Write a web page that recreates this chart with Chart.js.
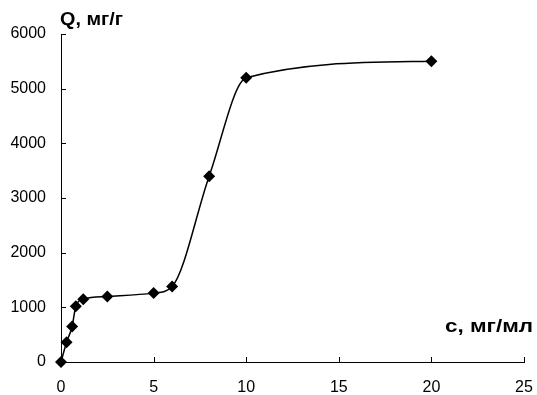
<!DOCTYPE html>
<html>
<head>
<meta charset="utf-8">
<script src="https://cdn.jsdelivr.net/npm/chart.js@4"></script>
<style>
html,body{margin:0;padding:0;background:#fff;}
#wrap{width:537px;height:395px;}
</style>
</head>
<body>
<div id="wrap"><canvas id="c" width="537" height="395"></canvas></div>
<script>
const concentrations = [0, 0.3, 0.6, 0.8, 1.2, 2.5, 5, 6, 8, 10, 20];
const adsorption = [0, 360, 650, 1020, 1150, 1200, 1260, 1380, 3400, 5200, 5500];
const xTicks = [0, 5, 10, 15, 20, 25];
const yTicks = [0, 1000, 2000, 3000, 4000, 5000, 6000];
const yTitle = 'Q, мг/г';
const xTitle = 'с, мг/мл';

const points = concentrations.map((x, i) => ({x: x, y: adsorption[i]}));

function fitText(ctx, text, x, y, targetW, align) {
  const w = ctx.measureText(text).width;
  const k = targetW / w;
  ctx.save();
  ctx.textAlign = 'left';
  const left = align === 'right' ? x - targetW : x;
  ctx.translate(left, y);
  ctx.scale(k, 1);
  ctx.fillText(text, 0, 0);
  ctx.restore();
}

const insideTicks = {
  id: 'insideTicks',
  afterDraw(chart) {
    const ctx = chart.ctx;
    const xs = chart.scales.x, ys = chart.scales.y;
    const a = chart.chartArea;
    ctx.save();
    ctx.strokeStyle = '#000';
    ctx.lineWidth = 1;
    ctx.beginPath();
    xTicks.forEach(v => {
      const px = Math.round(xs.getPixelForValue(v)) + 0.5;
      ctx.moveTo(px, a.bottom);
      ctx.lineTo(px, a.bottom - 5);
    });
    yTicks.forEach(v => {
      const py = Math.round(ys.getPixelForValue(v)) + 0.5;
      ctx.moveTo(a.left, py);
      ctx.lineTo(a.left + 5, py);
    });
    ctx.stroke();
    ctx.fillStyle = '#000';
    ctx.font = 'bold 19px "Liberation Sans", Arial, sans-serif';
    ctx.textBaseline = 'alphabetic';
    fitText(ctx, yTitle, 60, 25, 63, 'left');
    fitText(ctx, xTitle, 533, 332, 88, 'right');
    ctx.restore();
  }
};

new Chart(document.getElementById('c'), {
  type: 'line',
  data: {
    datasets: [{
      data: points,
      borderColor: '#000',
      backgroundColor: '#000',
      borderWidth: 1.5,
      tension: 0.4,
      cubicInterpolationMode: 'monotone',
      pointStyle: 'rectRot',
      pointRadius: 6,
      pointBorderWidth: 0,
      pointHoverRadius: 6,
      fill: false,
      clip: false
    }]
  },
  options: {
    responsive: false,
    animation: false,
    events: [],
    layout: {padding: {top: 34, right: 13, left: 0, bottom: 0}},
    plugins: {legend: {display: false}, tooltip: {enabled: false}},
    scales: {
      x: {
        type: 'linear',
        min: 0, max: 25,
        afterBuildTicks: s => { s.ticks = xTicks.map(v => ({value: v})); },
        afterFit: s => { s.height = 33; s.paddingLeft = 0; s.paddingRight = 0; },
        grid: {display: false, drawTicks: false},
        border: {display: true, color: '#000', width: 1},
        ticks: {color: '#000', padding: 16, font: {size: 16, family: '"Liberation Sans", Arial, sans-serif'}, maxRotation: 0,
                callback: v => String(v)}
      },
      y: {
        type: 'linear',
        min: 0, max: 6000,
        afterBuildTicks: s => { s.ticks = yTicks.map(v => ({value: v})); },
        afterFit: s => { s.width = 61; s.paddingTop = 0; s.paddingBottom = 0; },
        grid: {display: false, drawTicks: false},
        border: {display: true, color: '#000', width: 1},
        ticks: {color: '#000', padding: 15, font: {size: 16, family: '"Liberation Sans", Arial, sans-serif'},
                callback: v => String(v)}
      }
    }
  },
  plugins: [insideTicks]
});
</script>
</body>
</html>
